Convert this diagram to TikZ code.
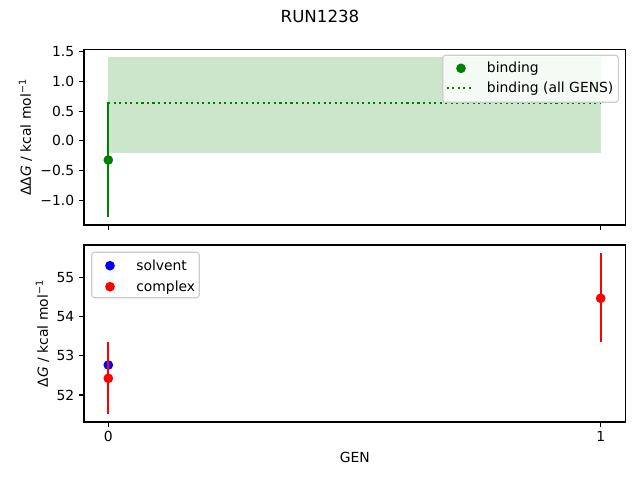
\documentclass[tikz,border=0pt]{standalone}
\usepackage{fontspec}
\setmainfont{DejaVu Sans}
\definecolor{mplgreen}{RGB}{0,128,0}
\definecolor{bandgreen}{RGB}{204,230,204}
\definecolor{legedge}{RGB}{204,204,204}
\begin{document}
\begin{tikzpicture}[x=0.72pt,y=-0.72pt,
  spine/.style={line width=0.8pt,black},
  tickmark/.style={line width=0.8pt,black},
  lab/.style={font=\fontsize{10}{12}\selectfont,inner sep=0pt},
  ylab/.style={lab,anchor=base east},
  xlab/.style={lab,anchor=base},
  errbar/.style={line width=1.5pt},
  legbox/.style={draw=legedge,line width=0.8pt,fill=white,fill opacity=0.8,rounded corners=2pt},
  legtxt/.style={lab,anchor=base west}]
\useasboundingbox (0,0) rectangle (640,480);
\def\mr{3.5pt}
% title
\node[font=\fontsize{12}{14}\selectfont,inner sep=0pt,anchor=base] (title) at (320,22.7) {RUN1238};
% ---------------- top axes
\fill[bandgreen] (108.3,57.3) rectangle (600.7,152.7);
\draw[mplgreen,line width=1.5pt,dash pattern=on 1.5pt off 2.475pt] (108.3,103.3) -- (600.7,103.3);
\draw[errbar,mplgreen] (108.3,102.3) -- (108.3,216.7);
\fill[mplgreen] (108.3,160) circle (\mr);
\draw[spine] (84,49.3) rectangle (625.5,225);
\foreach \v/\y [count=\i] in {1.5/51.7,1.0/81.4,0.5/111.1,0.0/140.9,{−0.5}/170.6,{−1.0}/200.3}{
  \draw[tickmark] (84,\y) -- (79.1,\y);
  \node[ylab] (ta\i) at (74.5,\y+5) {\v};
}
\draw[tickmark] (108.3,225) -- (108.3,229.9);
\draw[tickmark] (600.7,225) -- (600.7,229.9);
\node[lab,rotate=90] (ylabtop) at (25.5,137.2) {ΔΔ\textit{G} / kcal mol\textsuperscript{−1}};
% legend top
\draw[legbox] (442.7,55.3) rectangle (618.3,102.3);
\fill[mplgreen] (461,68.3) circle (\mr);
\draw[mplgreen,line width=1.5pt,dash pattern=on 1.5pt off 2.475pt] (446.7,87.7) -- (474.3,87.7);
\node[legtxt] (lg1) at (486.7,72.8) {binding};
\node[legtxt] (lg2) at (486.7,92.3) {binding (all GENS)};
% ---------------- bottom axes
\fill[blue] (108.3,365) circle (\mr);
\draw[errbar,red] (108.3,342.3) -- (108.3,413.7);
\fill[red] (108.3,378.3) circle (\mr);
\draw[errbar,red] (600.7,253.3) -- (600.7,342.3);
\fill[red] (600.7,298.3) circle (\mr);
\draw[spine] (84,245) rectangle (625.5,422);
\foreach \v/\y [count=\i] in {55/277.3,54/316.5,53/355.8,52/395}{
  \draw[tickmark] (84,\y) -- (79.1,\y);
  \node[ylab] (ba\i) at (74.5,\y+5) {\v};
}
\draw[tickmark] (108.3,422) -- (108.3,426.9);
\draw[tickmark] (600.7,422) -- (600.7,426.9);
\node[xlab] (x0) at (108.3,441.7) {0};
\node[xlab] (x1) at (600.7,441.7) {1};
\node[xlab] (xlabel) at (354.8,462.3) {GEN};
\node[lab,rotate=90] (ylabbot) at (42.5,333.5) {Δ\textit{G} / kcal mol\textsuperscript{−1}};
% legend bottom
\draw[legbox] (91.7,252.3) rectangle (199.3,297.7);
\fill[blue] (110,265.7) circle (\mr);
\fill[red] (110,286.7) circle (\mr);
\node[legtxt] (lb1) at (136,270.5) {solvent};
\node[legtxt] (lb2) at (136,291.5) {complex};
\end{tikzpicture}
\end{document}
